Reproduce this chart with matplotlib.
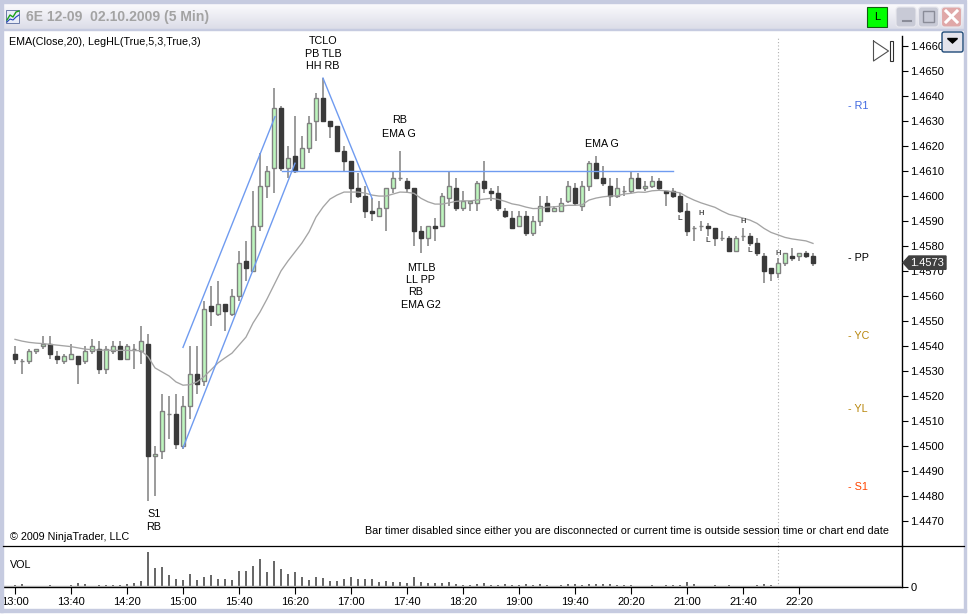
import numpy as np
import matplotlib
matplotlib.use('Agg')
import matplotlib.pyplot as plt
from matplotlib.patches import Rectangle, Polygon, FancyBboxPatch

plt.rcParams['font.family'] = ['Liberation Sans', 'DejaVu Sans']

# prices in 1/10000 units, one entry per 5 minute bar starting at 13:00
opens = [14537, 14534, 14534, 14538, 14540, 14541, 14536, 14534, 14535, 14536,
         14534, 14538, 14539, 14531, 14538, 14540, 14535, 14539, 14538, 14541,
         14496, 14498, 14513, 14513, 14500, 14516, 14529, 14526, 14556, 14553,
         14557, 14553, 14560, 14574, 14570, 14588, 14604, 14611, 14635, 14611,
         14616, 14611, 14619, 14630, 14639, 14630, 14628, 14618, 14614, 14603,
         14600, 14594, 14592, 14595, 14603, 14607, 14606, 14603, 14586, 14583,
         14588, 14588, 14599, 14603, 14595, 14597, 14597, 14606, 14602, 14601,
         14594, 14591, 14588, 14592, 14585, 14590, 14597, 14594, 14594, 14598,
         14603, 14596, 14604, 14613, 14607, 14604, 14600, 14602, 14602, 14607,
         14603, 14604, 14606, 14602, 14602, 14600, 14594, 14587, 14588, 14588,
         14587, 14583, 14583, 14578, 14584, 14584, 14581, 14576, 14571, 14569,
         14573, 14576, 14576, 14577, 14576]
closes = [14535, 14534, 14538, 14539, 14541, 14537, 14535, 14536, 14537, 14533,
          14538, 14540, 14531, 14539, 14540, 14535, 14540, 14539, 14542, 14496,
          14497, 14514, 14513, 14501, 14516, 14529, 14525, 14555, 14554, 14557,
          14554, 14560, 14573, 14571, 14588, 14604, 14610, 14635, 14611, 14615,
          14610, 14619, 14629, 14639, 14630, 14628, 14618, 14614, 14603, 14600,
          14594, 14593, 14595, 14603, 14607, 14607, 14603, 14586, 14583, 14588,
          14587, 14600, 14604, 14595, 14598, 14598, 14605, 14603, 14601, 14595,
          14592, 14587, 14592, 14585, 14590, 14596, 14594, 14595, 14597, 14604,
          14597, 14604, 14613, 14607, 14605, 14600, 14603, 14602, 14607, 14603,
          14604, 14606, 14603, 14601, 14600, 14594, 14586, 14587, 14588, 14587,
          14583, 14583, 14578, 14583, 14584, 14581, 14577, 14570, 14569, 14573,
          14577, 14575, 14577, 14576, 14573]
highs = [14540, 14535, 14539, 14539, 14544, 14544, 14538, 14537, 14541, 14536,
         14540, 14543, 14542, 14540, 14542, 14542, 14541, 14541, 14548, 14545,
         14500, 14521, 14520, 14521, 14520, 14540, 14540, 14558, 14564, 14566,
         14557, 14563, 14578, 14582, 14602, 14617, 14612, 14643, 14636, 14620,
         14632, 14624, 14632, 14641, 14647, 14630, 14628, 14620, 14614, 14609,
         14604, 14599, 14598, 14603, 14610, 14618, 14607, 14603, 14588, 14588,
         14591, 14601, 14610, 14607, 14602, 14598, 14606, 14614, 14603, 14604,
         14595, 14594, 14594, 14594, 14592, 14600, 14600, 14596, 14599, 14606,
         14605, 14606, 14614, 14616, 14612, 14607, 14607, 14604, 14610, 14609,
         14606, 14608, 14607, 14602, 14603, 14601, 14597, 14588, 14590, 14589,
         14587, 14586, 14584, 14584, 14587, 14585, 14583, 14577, 14571, 14575,
         14577, 14579, 14577, 14578, 14577]
lows = [14533, 14529, 14533, 14537, 14539, 14535, 14533, 14533, 14535, 14525,
        14533, 14537, 14529, 14529, 14537, 14535, 14535, 14531, 14533, 14478,
        14480, 14495, 14503, 14499, 14499, 14511, 14521, 14524, 14548, 14552,
        14546, 14552, 14558, 14566, 14570, 14586, 14599, 14601, 14610, 14607,
        14609, 14611, 14617, 14622, 14630, 14623, 14618, 14610, 14597, 14599,
        14591, 14590, 14592, 14586, 14601, 14606, 14601, 14580, 14577, 14580,
        14582, 14588, 14596, 14594, 14594, 14594, 14594, 14601, 14598, 14594,
        14591, 14587, 14588, 14584, 14584, 14588, 14594, 14594, 14594, 14597,
        14596, 14594, 14602, 14607, 14604, 14596, 14599, 14600, 14601, 14603,
        14602, 14603, 14602, 14596, 14599, 14593, 14584, 14582, 14586, 14584,
        14580, 14582, 14578, 14578, 14582, 14580, 14576, 14565, 14566, 14567,
        14572, 14574, 14574, 14575, 14572]
ema20 = [14542.7, 14542.0, 14541.5, 14541.2, 14541.0, 14540.7, 14540.4, 14540.1, 14539.8, 14539.3,
         14538.8, 14538.6, 14538.4, 14538.4, 14538.3, 14538.3, 14538.3, 14538.2, 14538.2, 14535.8,
         14531.3, 14529.7, 14528.1, 14525.7, 14524.4, 14524.6, 14525.7, 14527.8, 14530.5, 14533.3,
         14535.3, 14537.2, 14540.4, 14543.6, 14549.2, 14553.6, 14558.8, 14564.4, 14570.0, 14574.0,
         14577.6, 14581.2, 14585.6, 14591.5, 14595.5, 14598.7, 14600.3, 14601.5, 14601.5, 14601.5,
         14601.1, 14600.3, 14599.9, 14599.9, 14600.7, 14601.5, 14601.4, 14601.0, 14599.0, 14597.6,
         14596.7, 14596.7, 14597.2, 14597.8, 14598.0, 14598.0, 14598.3, 14598.7, 14599.0, 14598.6,
         14597.8, 14596.8, 14596.3, 14595.5, 14594.9, 14595.0, 14595.5, 14595.6, 14595.9, 14596.2,
         14596.2, 14596.4, 14598.3, 14599.1, 14599.6, 14599.9, 14600.0, 14600.7, 14601.0, 14601.5,
         14601.4, 14602.0, 14602.2, 14602.0, 14601.6, 14601.2, 14599.6, 14598.3, 14597.2, 14596.3,
         14595.4, 14593.9, 14592.6, 14591.9, 14591.1, 14590.3, 14589.0, 14587.0, 14585.4, 14584.4,
         14583.4, 14582.8, 14582.4, 14582.0, 14581.0]
volume = [7, 10, 0, 0, 0, 7, 0, 0, 7, 13,
          10, 0, 7, 7, 7, 7, 10, 13, 19, 103,
          55, 58, 37, 25, 22, 40, 22, 31, 37, 25,
          25, 22, 46, 46, 61, 82, 43, 76, 52, 40,
          43, 31, 22, 31, 28, 19, 19, 25, 31, 25,
          25, 25, 16, 19, 16, 16, 13, 31, 16, 13,
          13, 13, 16, 10, 7, 7, 10, 13, 7, 7,
          10, 7, 7, 10, 7, 10, 7, 0, 7, 10,
          10, 7, 10, 10, 10, 10, 7, 7, 7, 0,
          0, 7, 0, 7, 7, 7, 16, 10, 0, 0,
          7, 0, 7, 0, 0, 0, 7, 10, 7, 0,
          0, 0, 0, 0, 0]

time_labels = ['13:00', '13:40', '14:20', '15:00', '15:40', '16:20', '17:00', '17:40',
               '18:20', '19:00', '19:40', '20:20', '21:00', '21:40', '22:20']
price_ticks = [14470 + 10 * k for k in range(20)]

# drawn trend lines: bar index and price at both ends
leg_lines = [([24, 37.14], [14539.5, 14631.6]),
             ([24, 40], [14499.4, 14613]),
             ([38.1, 94], [14610, 14610]),
             ([44, 51], [14647, 14599])]

# chart notes: text, bar index, price
notes = [('TCLO', 44, 14661.8), ('PB TLB', 44, 14656.6), ('HH RB', 44, 14651.8),
         ('RB', 55, 14630.3), ('EMA G', 54.8, 14624.7),
         ('MTLB', 58, 14571.2), ('LL PP', 57.9, 14566.4), ('RB', 57.2, 14561.6), ('EMA G2', 58, 14556.4),
         ('EMA G', 83.9, 14620.7), ('S1', 19.85, 14473), ('RB', 19.85, 14467.8)]
swing_marks = [('L', 95, 14591), ('H', 98, 14593), ('L', 99, 14582),
               ('H', 104, 14589.8), ('L', 105, 14578), ('H', 109, 14576.8)]
pivots = [('- R1', 14635.8, '#4169E1'), ('- PP', 14575.2, 'black'), ('- YC', 14544, '#B8860B'),
          ('- YL', 14514.9, '#B8860B'), ('- S1', 14483.8, '#FF4500')]

W, H = 970, 615
TXT = 7.75


def px_axes(left, top, right, bottom, **kw):
    return fig.add_axes([left / W, 1 - bottom / H, (right - left) / W, (bottom - top) / H], **kw)


fig = plt.figure(figsize=(W / 100, H / 100), dpi=100, facecolor='white')

o = np.array(opens) / 10000
c = np.array(closes) / 10000
hi = np.array(highs) / 10000
lo = np.array(lows) / 10000
bars = np.arange(len(o))
up = c >= o

# index range so that bar i lands on x = 15 + 7 i
xlim = ((3 - 15) / 7, (902 - 15) / 7)

ax = px_axes(3, 30, 902, 546)
ax.set_xlim(*xlim)
ax.set_ylim(1.44602, 1.46662)
ax.vlines(bars, lo, hi, color='#808080', lw=1.1, zorder=2)
ax.bar(bars[up], (c - o)[up], bottom=o[up], width=0.66, facecolor='#BDF5BD', edgecolor='#808080', lw=1.0, zorder=3)
ax.bar(bars[~up], (c - o)[~up], bottom=o[~up], width=0.66, facecolor='#3A3A3A', edgecolor='#3A3A3A', lw=1.0, zorder=3)
ax.plot(bars, np.array(ema20) / 10000, color='#A4A4A4', lw=0.95, zorder=4)
for xs, ys in leg_lines:
    ax.plot(xs, np.array(ys) / 10000, color='#6F9BF0', lw=1.0, zorder=5)
ax.axvline(109, color='#B0B0B0', lw=0.8, ls=(0, (1, 2)), zorder=1, ymax=0.985)

for txt, i, p in notes:
    ax.text(i, p / 10000, txt, ha='center', va='center', fontsize=TXT, color='black', zorder=6)
for txt, i, p in swing_marks:
    ax.text(i, p / 10000, txt, ha='center', va='center', fontsize=5.5, weight='bold', color='#505050', zorder=6)
for txt, p, col in pivots:
    ax.text(119, p / 10000, txt, ha='left', va='center', fontsize=TXT, color=col, zorder=6)

ax.text(6 / 899, 1 - 12 / 516, 'EMA(Close,20), LegHL(True,5,3,True,3)', fontsize=TXT, va='center',
        transform=ax.transAxes)
ax.text(7 / 899, 1 - 507 / 516, '\u00a9 2009 NinjaTrader, LLC', fontsize=TXT, va='center', transform=ax.transAxes)
ax.text(886 / 899, 1 - 501 / 516,
        'Bar timer disabled since either you are disconnected or current time is outside session time or chart end date',
        fontsize=TXT, va='center', ha='right', transform=ax.transAxes)

ax.yaxis.tick_right()
ax.set_yticks([t / 10000 for t in price_ticks])
ax.set_yticklabels(['%.4f' % (t / 10000) for t in price_ticks], fontsize=8)
ax.tick_params(axis='y', length=4, width=0.8, pad=2)
ax.set_xticks([])
for s in ['top', 'left', 'bottom']:
    ax.spines[s].set_visible(False)
ax.spines['right'].set_linewidth(1.0)
ax.spines['right'].set_bounds(1.44602, 1.46640)

vax = px_axes(3, 546, 902, 587)
vax.set_xlim(*xlim)
vax.set_ylim(0, 121.5)
vax.bar(bars, volume, width=0.3, color='#696969', zorder=2)
vax.axhline(3.5, color='#A8A8A8', lw=1.0, zorder=3)
vax.axvline(109, color='#B0B0B0', lw=0.8, ls=(0, (1, 2)), zorder=1)
vax.text(7 / 899, 1 - 19 / 41, 'VOL', fontsize=TXT, va='center', transform=vax.transAxes)
vax.yaxis.tick_right()
vax.set_yticks([0])
vax.set_yticklabels(['0'], fontsize=8)
vax.tick_params(axis='y', length=4, width=0.8, pad=2)
vax.set_xticks(np.arange(len(time_labels)) * 8)
vax.set_xticklabels(time_labels, fontsize=8)
vax.tick_params(axis='x', length=5, width=0.8, pad=2)
for s in ['top', 'left']:
    vax.spines[s].set_visible(False)
for s in ['right', 'bottom']:
    vax.spines[s].set_linewidth(1.0)

# window chrome on top, in pixel coordinates
top = fig.add_axes([0, 0, 1, 1], zorder=10, facecolor='none')
top.set_xlim(0, W)
top.set_ylim(H, 0)
top.axis('off')

grad = np.linspace(0, 1, 26).reshape(-1, 1)
cm = matplotlib.colors.LinearSegmentedColormap.from_list('bar', ['#FBFBFD', '#ECECF3', '#DCDDE8'])
top.imshow(grad, extent=(3, 964, 29, 3), cmap=cm, aspect='auto', zorder=1)
top.set_xlim(0, W)
top.set_ylim(H, 0)
frame = '#C6CBE0'
top.add_patch(Rectangle((0, 0), 3, 612, color=frame, zorder=2))
top.add_patch(Rectangle((964, 3), 2, 609, color=frame, zorder=2))
top.add_patch(Rectangle((0, 609), 966, 3, color=frame, zorder=2))
top.add_patch(Rectangle((0, 0), 966, 3, color=frame, zorder=2))
top.add_patch(Rectangle((3, 28.5), 961, 1.2, color=frame, zorder=2))
top.plot([3, 964], [546.3, 546.3], color='black', lw=0.9, zorder=2)

top.text(26, 17.5, '6E 12-09  02.10.2009 (5 Min)', fontsize=10.1, weight='bold', color='#A3A3A3', va='center', zorder=3)
top.add_patch(Rectangle((6.5, 9.5), 13, 13, facecolor='#E8ECF8', edgecolor='#6A7AA8', lw=0.7, zorder=3))
top.plot([7, 10, 13, 16, 19], [20, 15, 17, 12, 11], color='#18A018', lw=1.0, zorder=4)
top.plot([7, 10, 13, 16, 19], [22, 19, 20, 17, 15], color='#2040C0', lw=0.8, zorder=4)

top.add_patch(Rectangle((867, 7), 20, 20, facecolor='#00FF00', edgecolor='#106010', lw=0.8, zorder=3))
top.text(877, 17.5, 'L', fontsize=8, ha='center', va='center', zorder=4)
for x0, col in [(896, '#C8CAD6'), (918.5, '#C8CAD6'), (941.5, '#E0A8A8')]:
    top.add_patch(FancyBboxPatch((x0 + 1, 8), 18, 18, boxstyle='round,pad=1,rounding_size=3', facecolor=col,
                                 edgecolor='#E8E8EE', lw=0.8, zorder=3))
top.plot([903, 911], [20.5, 20.5], color='#8A8C98', lw=1.5, zorder=4)
top.add_patch(Rectangle((923, 11), 11, 11, facecolor='none', edgecolor='#8A8C98', lw=1.0, zorder=4))
top.plot([946, 957], [11, 22], color='white', lw=2.2, zorder=4)
top.plot([946, 957], [22, 11], color='white', lw=2.2, zorder=4)

# go-to-end icon and drop down button
top.plot([873.5, 888.5, 873.5, 873.5], [41, 51, 61, 41], color='#505050', lw=0.8, zorder=4)
top.add_patch(Rectangle((890, 41), 3.5, 20, facecolor='white', edgecolor='#303030', lw=0.8, zorder=4))
top.add_patch(FancyBboxPatch((943, 33), 19, 18, boxstyle='round,pad=1,rounding_size=2', facecolor='#E4E4EC',
                             edgecolor='#1F4A78', lw=1.0, zorder=4))
top.add_patch(Polygon([[947.5, 38.5], [957.5, 38.5], [952.5, 43]], color='black', zorder=5))

# last price tag
top.add_patch(Polygon([[903, 262.7], [909, 256], [946, 256], [946, 269.3], [909, 269.3]], color='#404040', zorder=4))
top.text(927.5, 263, '1.4573', fontsize=8, color='white', ha='center', va='center', zorder=5)

fig.savefig('out.png', dpi=100)
